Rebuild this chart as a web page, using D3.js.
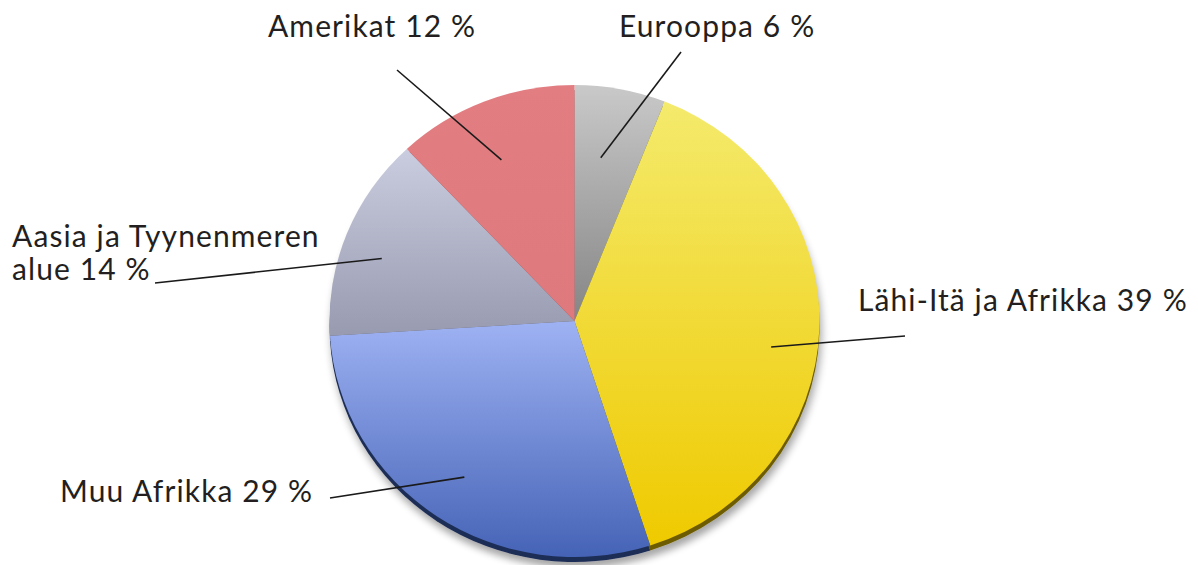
<!DOCTYPE html>
<html><head><meta charset="utf-8">
<script src="https://cdn.jsdelivr.net/npm/d3@7"></script>
<style>html,body{margin:0;padding:0;background:#fff;}svg{display:block;}</style>
</head><body>
<script>
// ---- data ----
const categories = ["Eurooppa", "Lähi-Itä ja Afrikka", "Muu Afrikka", "Aasia ja Tyynenmeren alue", "Amerikat"];
const values = [6, 39, 29, 14, 12];
const labelLines = [["Eurooppa 6 %"], ["Lähi-Itä ja Afrikka 39 %"], ["Muu Afrikka 29 %"], ["Aasia ja Tyynenmeren", "alue 14 %"], ["Amerikat 12 %"]];

// ---- styles / layout ----
const topColors = ["#c9c9c9", "#f4ea6c", "#9eb2f3", "#caccdf", "#e27e82"];
const bottomColors = ["#858585", "#efca00", "#4563b6", "#989bb0", "#de7a7e"];
const rimColors = ["#555555", "#6e5c00", "#1e2d55", "#5e6070", "#8a4a4d"];
const W = 1198, H = 565;
const cx = 574.5, cy = 321, rx = 245, ry = 236;
// label layout: text anchor position, outer end of leader line, inner radius fraction, angle nudge (deg)
const labelLayout = [
  {x: 619, y: 37, lx: 681, ly: 52, frac: 0.70, nudge: -2},
  {x: 858, y: 311, lx: 905, ly: 336, frac: 0.81, nudge: 6},
  {x: 60, y: 502, lx: 330, ly: 498, frac: 0.80, nudge: 0},
  {x: 12, y: 247, lx: 155, ly: 283, frac: 0.83, nudge: -3},
  {x: 268, y: 37, lx: 397, ly: 70, frac: 0.745, nudge: -2}
];

const svg = d3.select("body").append("svg").attr("width", W).attr("height", H);
const defs = svg.append("defs");
categories.forEach((c, i) => {
  const g = defs.append("linearGradient").attr("id", "g" + i)
    .attr("x1", 0).attr("y1", 0).attr("x2", 0).attr("y2", 1);
  g.append("stop").attr("offset", "0%").attr("stop-color", topColors[i]);
  g.append("stop").attr("offset", "100%").attr("stop-color", bottomColors[i]);
});
const f = defs.append("filter").attr("id", "sh").attr("x", "-20%").attr("y", "-20%").attr("width", "140%").attr("height", "140%");
f.append("feGaussianBlur").attr("in", "SourceAlpha").attr("stdDeviation", 4);
f.append("feOffset").attr("dx", 2).attr("dy", 6).attr("result", "o");
f.append("feComponentTransfer").append("feFuncA").attr("type", "linear").attr("slope", 0.35);
const fm = f.append("feMerge");
fm.append("feMergeNode");
fm.append("feMergeNode").attr("in", "SourceGraphic");

const pie = d3.pie().sort(null).value(d => d)(values);
const arc = d3.arc().innerRadius(0).outerRadius(rx);
const k = ry / rx;

// shadow + rim
const rim = svg.append("g").attr("transform", `translate(${cx},${cy + 5}) scale(1,${k})`).attr("filter", "url(#sh)");
rim.selectAll("path").data(pie).join("path").attr("d", arc).attr("fill", (d, i) => rimColors[i]);

const pg = svg.append("g").attr("transform", `translate(${cx},${cy}) scale(1,${k})`);
pg.selectAll("path").data(pie).join("path").attr("d", arc).attr("fill", (d, i) => `url(#g${i})`);

// leader lines
const lines = svg.append("g");
pie.forEach((d, i) => {
  const L = labelLayout[i];
  const a = (d.startAngle + d.endAngle) / 2 + L.nudge * Math.PI / 180;
  const x1 = cx + Math.sin(a) * rx * L.frac;
  const y1 = cy - Math.cos(a) * ry * L.frac;
  lines.append("line").attr("x1", L.lx).attr("y1", L.ly).attr("x2", x1).attr("y2", y1)
    .attr("stroke", "#1a1a1a").attr("stroke-width", 1.6);
});

// labels
const tg = svg.append("g").attr("font-family", "Lato, 'Open Sans', sans-serif").attr("font-size", 30)
  .attr("letter-spacing", 1.1).attr("fill", "#231f20");
labelLines.forEach((ls, i) => {
  const L = labelLayout[i];
  const t = tg.append("text").attr("x", L.x).attr("y", L.y);
  ls.forEach((s, j) => t.append("tspan").attr("x", L.x).attr("dy", j === 0 ? 0 : 33).text(s));
});
</script>
</body></html>
